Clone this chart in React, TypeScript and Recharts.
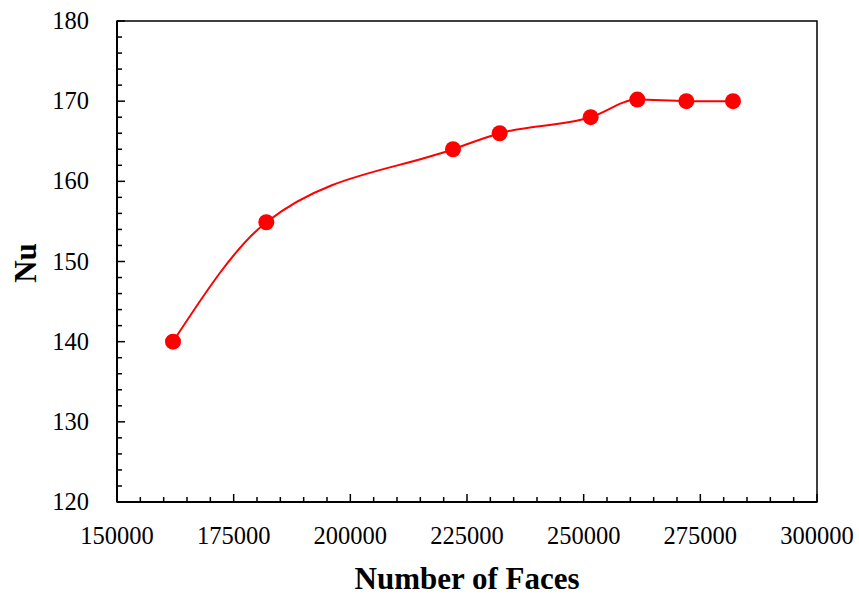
import React from "react";
import { LineChart, Line, XAxis, YAxis, ReferenceArea } from "recharts";

const faces = [162000, 182000, 222000, 232000, 251500, 261500, 272000, 282000];
const nu = [140, 154.9, 164, 166, 168, 170.2, 170, 170];

const xTicks = [
  150000, 155000, 160000, 165000, 170000, 175000, 180000, 185000, 190000, 195000,
  200000, 205000, 210000, 215000, 220000, 225000, 230000, 235000, 240000, 245000,
  250000, 255000, 260000, 265000, 270000, 275000, 280000, 285000, 290000, 295000, 300000,
];
const xLabelTicks = [150000, 175000, 200000, 225000, 250000, 275000, 300000];
const yTicks = [
  120, 122, 124, 126, 128, 130, 132, 134, 136, 138, 140, 142, 144, 146, 148, 150,
  152, 154, 156, 158, 160, 162, 164, 166, 168, 170, 172, 174, 176, 178, 180,
];
const yLabelTicks = [120, 130, 140, 150, 160, 170, 180];

const data = faces.map((f, i) => ({ faces: f, nu: nu[i] }));

const FONT = "'Liberation Serif', 'Times New Roman', serif";

const XTick = (props: any) => {
  const { x, y, payload } = props;
  const major = xLabelTicks.includes(payload.value);
  return (
    <g>
      <line x1={x} x2={x} y1={y} y2={y - (major ? 8 : 5)} stroke="#000" strokeWidth={1.5} />
      {major && (
        <text x={x} y={y + 42} textAnchor="middle" style={{ fontFamily: FONT }} fontSize={24.5} fill="#000">
          {payload.value}
        </text>
      )}
    </g>
  );
};

const YTick = (props: any) => {
  const { x, y, payload } = props;
  const major = yLabelTicks.includes(payload.value);
  return (
    <g>
      <line x1={x} x2={x + (major ? 8 : 5)} y1={y} y2={y} stroke="#000" strokeWidth={1.5} />
      {major && (
        <text x={x - 28} y={y + 8} textAnchor="end" style={{ fontFamily: FONT }} fontSize={24.5} fill="#000">
          {payload.value}
        </text>
      )}
    </g>
  );
};

export default function App() {
  return (
    <div style={{ position: "absolute", left: 0, top: 0, background: "#fff" }}>
      <LineChart width={859} height={601} data={data} margin={{ top: 21, right: 42, bottom: 0, left: 0 }}>
        <XAxis
          dataKey="faces"
          type="number"
          domain={[150000, 300000]}
          ticks={xTicks}
          interval={0}
          height={99}
          tickSize={0}
          tickMargin={0}
          tickLine={false}
          axisLine={{ stroke: "#000", strokeWidth: 2 }}
          tick={XTick}
          label={{
            content: (p: any) => {
              const vb = p.viewBox;
              return (
                <text
                  x={vb.x + vb.width / 2}
                  y={589}
                  textAnchor="middle"
                  style={{ fontFamily: FONT }}
                  fontSize={31}
                  fontWeight="bold"
                  fill="#000"
                >
                  Number of Faces
                </text>
              );
            },
          }}
        />
        <YAxis
          type="number"
          domain={[120, 180]}
          ticks={yTicks}
          interval={0}
          width={117}
          tickSize={0}
          tickMargin={0}
          tickLine={false}
          axisLine={{ stroke: "#000", strokeWidth: 2 }}
          tick={YTick}
          label={{
            content: (p: any) => {
              const vb = p.viewBox;
              const cy = vb.y + vb.height / 2 + 1.5;
              return (
                <text
                  x={36}
                  y={cy}
                  transform={`rotate(-90, 36, ${cy})`}
                  textAnchor="middle"
                  style={{ fontFamily: FONT }}
                  fontSize={31}
                  fontWeight="bold"
                  fill="#000"
                >
                  Nu
                </text>
              );
            },
          }}
        />
        <ReferenceArea
          x1={150000}
          x2={300000}
          y1={120}
          y2={180}
          fill="none"
          fillOpacity={0}
          stroke="#000"
          strokeWidth={1.5}
          ifOverflow="visible"
        />
        <Line
          dataKey="nu"
          type="monotone"
          stroke="#ff0000"
          strokeWidth={2}
          dot={{ r: 8, fill: "#ff0000", stroke: "none" }}
          activeDot={false}
          isAnimationActive={false}
        />
      </LineChart>
    </div>
  );
}
